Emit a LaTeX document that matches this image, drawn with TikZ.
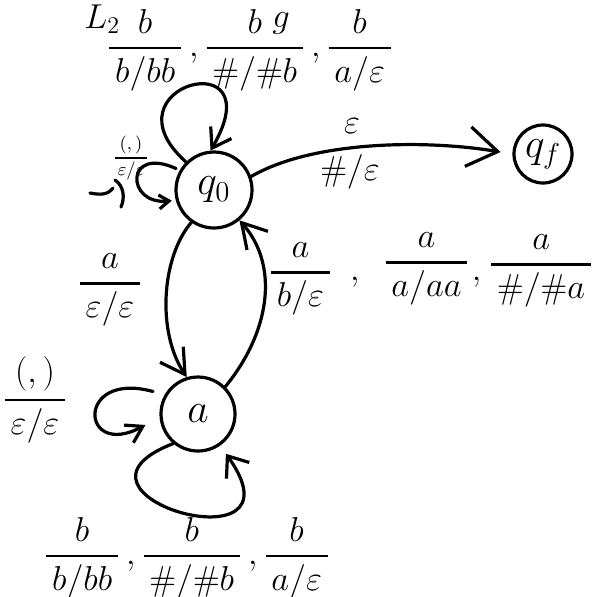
\documentclass[tikz,border=0pt]{standalone}
\usepackage{amsmath}
\usetikzlibrary{arrows.meta,positioning}
\definecolor{ink}{HTML}{000000}
\tikzset{
  state/.style={draw=ink,circle,line width=1.6pt,inner sep=0pt,text=ink,font=\fontsize{22}{26}\selectfont},
  trans/.style={draw=ink,line width=1.6pt,line cap=round,line join=round,-{Straight Barb[length=12pt,width=14pt]}},
  stroke/.style={draw=ink,line width=1.6pt,line cap=round},
  lbl/.style={inner sep=1pt,text=ink,font=\fontsize{17}{20}\selectfont},
  tinylbl/.style={inner sep=0pt,text=ink,font=\fontsize{9}{10}\selectfont}
}
\newcommand{\edgefrac}[3][1.2pt]{\genfrac{}{}{#1}{0}{#2}{\,#3\,}}

\begin{document}
\begin{tikzpicture}[x=0.5pt,y=-0.5pt]
  \useasboundingbox (0,0) rectangle (598,596);
  % states
  \node[state,minimum size=38pt] (q0) at (214,190) {$q_0$};
  \node[state,minimum size=29pt] (qf) at (543,154) {$q_f$};
  \node[state,minimum size=37pt] (a) at (198,414) {$a$};

  % heading
  \node[lbl,anchor=base west] (head1) at (82,28) {$L_2$};
  \node[lbl,anchor=base] (head2) at (281,27) {$g$};

  % q0 -> qf
  \draw[trans,-{Straight Barb[length=15pt,width=20pt]},shorten >=6pt] (q0.20) .. controls +(60,-35) and +(-90,-15) .. (qf.west);
  \node[lbl] (eps) at (352,126) {$\varepsilon$};
  \node[lbl] (hasheps) at (350,172) {$\#/\varepsilon$};

  % q0 -> a and back
  \draw[trans] (q0.235) .. controls +(-30,35) and +(-30,-45) .. (a.107);
  \node[lbl] (down) at (110,290) {$\edgefrac{a}{\varepsilon/\varepsilon}$};
  \draw[trans] (a.45) .. controls +(45,-55) and +(40,45) .. (q0.-50);
  \node[lbl] (up) at (431,274) {$\edgefrac{a}{b/\varepsilon}\hspace{9pt},\hspace{9pt}\raisebox{5pt}{$\edgefrac{a}{a/aa}$}\hspace{1pt},\hspace{1pt}\raisebox{4pt}{$\edgefrac{a}{\#/\#a}$}$};

  % loops on q0
  \draw[trans,-{Straight Barb[length=9pt,width=12pt]}] (q0.135) .. controls (100,85) and (275,40) .. (q0.95);
  \node[lbl] (toploop) at (250,50) {$\edgefrac{b}{b/bb}\,,\edgefrac{b}{\#/\#b}\,,\edgefrac{b}{a/\varepsilon}$};
  \draw[trans,-{Straight Barb[length=5pt,width=7pt]},shorten <=2pt,shorten >=2pt] (q0.150) .. controls +(-55,-25) and +(-50,5) .. (q0.195);
  \node[tinylbl] (leftq0) at (131,158) {$\edgefrac[0.6pt]{(,)}{\varepsilon/\varepsilon}$};
  \draw[stroke] (90,193) .. controls (100,195) and (108,195) .. (113,188);
  \draw[stroke] (115,180) .. controls (124,186) and (125,198) .. (121,207);

  % loops on a
  \draw[trans,-{Straight Barb[length=8pt,width=10pt]},shorten <=6pt,shorten >=8pt] (a.150) .. controls (75,370) and (80,460) .. (a.185);
  \node[lbl] (lefta) at (35,400) {$\edgefrac{(,)}{\varepsilon/\varepsilon}$};
  \draw[trans,-{Straight Barb[length=9pt,width=14pt]},shorten >=5pt] (a.230) .. controls (40,495) and (310,572) .. (a.-55);
  \node[lbl] (bottomloop) at (187,558) {$\edgefrac{b}{b/bb}\,,\edgefrac{b}{\#/\#b}\,,\edgefrac{b}{a/\varepsilon}$};
\end{tikzpicture}
\end{document}
